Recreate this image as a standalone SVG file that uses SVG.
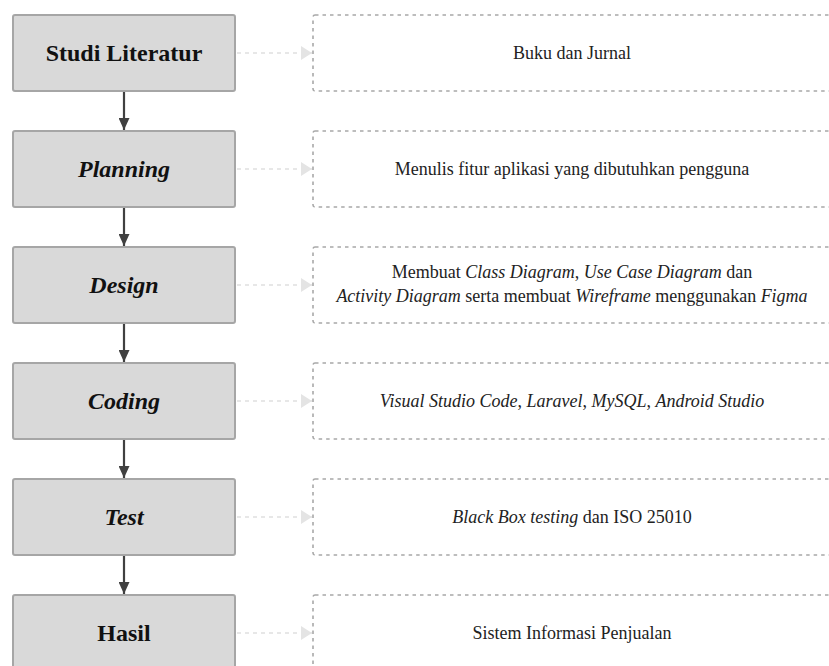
<svg xmlns="http://www.w3.org/2000/svg" width="829" height="666" viewBox="0 0 829 666">
  <defs>
    <marker id="down" markerWidth="12" markerHeight="11" refX="12" refY="5.5" orient="auto" markerUnits="userSpaceOnUse">
      <path d="M0,0 L12,5.5 L0,11 Z" fill="#404040"/>
    </marker>
    <marker id="side" markerWidth="11" markerHeight="14" refX="11" refY="7" orient="auto" markerUnits="userSpaceOnUse">
      <path d="M0,0 L11,7 L0,14 Z" fill="#e4e4e4"/>
    </marker>
  </defs>
  <style>
    .step rect { fill: #d9d9d9; stroke: #a6a6a6; stroke-width: 2; }
    .step text { font-family: "Liberation Serif", "Times New Roman", serif; font-size: 24px; font-weight: bold; fill: #111; text-anchor: middle; }
    .note rect { fill: none; stroke: #a8a8a8; stroke-width: 1.6; stroke-dasharray: 3.5 4; }
    .note text { font-family: "Liberation Serif", "Times New Roman", serif; font-size: 18px; fill: #222; text-anchor: middle; }
    .it { font-style: italic; }
    .flow { stroke: #404040; stroke-width: 2.2; fill: none; }
    .link { stroke: #e0e0e0; stroke-width: 1.6; stroke-dasharray: 4 4; fill: none; }
  </style>
  <rect width="829" height="666" fill="#ffffff"/>

  <!-- connectors -->
  <g id="connectors">
    <line class="flow" x1="124" y1="92" x2="124" y2="130" marker-end="url(#down)"/>
    <line class="flow" x1="124" y1="208" x2="124" y2="246" marker-end="url(#down)"/>
    <line class="flow" x1="124" y1="324" x2="124" y2="362" marker-end="url(#down)"/>
    <line class="flow" x1="124" y1="440" x2="124" y2="478" marker-end="url(#down)"/>
    <line class="flow" x1="124" y1="556" x2="124" y2="594" marker-end="url(#down)"/>

    <line class="link" x1="237" y1="53" x2="312" y2="53" marker-end="url(#side)"/>
    <line class="link" x1="237" y1="169" x2="312" y2="169" marker-end="url(#side)"/>
    <line class="link" x1="237" y1="285" x2="312" y2="285" marker-end="url(#side)"/>
    <line class="link" x1="237" y1="401" x2="312" y2="401" marker-end="url(#side)"/>
    <line class="link" x1="237" y1="517" x2="312" y2="517" marker-end="url(#side)"/>
    <line class="link" x1="237" y1="633" x2="312" y2="633" marker-end="url(#side)"/>
  </g>

  <!-- process steps -->
  <g id="step-studi" class="step">
    <rect x="13" y="15" width="222" height="76" rx="2"/>
    <text x="124" y="61">Studi Literatur</text>
  </g>
  <g id="step-planning" class="step">
    <rect x="13" y="131" width="222" height="76" rx="2"/>
    <text x="124" y="177" class="it">Planning</text>
  </g>
  <g id="step-design" class="step">
    <rect x="13" y="247" width="222" height="76" rx="2"/>
    <text x="124" y="293" class="it">Design</text>
  </g>
  <g id="step-coding" class="step">
    <rect x="13" y="363" width="222" height="76" rx="2"/>
    <text x="124" y="409" class="it">Coding</text>
  </g>
  <g id="step-test" class="step">
    <rect x="13" y="479" width="222" height="76" rx="2"/>
    <text x="124" y="525" class="it">Test</text>
  </g>
  <g id="step-hasil" class="step">
    <rect x="13" y="595" width="222" height="76" rx="2"/>
    <text x="124" y="641">Hasil</text>
  </g>

  <!-- notes -->
  <g id="note-studi" class="note">
    <rect x="313" y="15" width="520" height="76" rx="2"/>
    <text x="572" y="59">Buku dan Jurnal</text>
  </g>
  <g id="note-planning" class="note">
    <rect x="313" y="131" width="520" height="76" rx="2"/>
    <text x="572" y="175">Menulis fitur aplikasi yang dibutuhkan pengguna</text>
  </g>
  <g id="note-design" class="note">
    <rect x="313" y="247" width="520" height="76" rx="2"/>
    <text x="572" y="278">Membuat <tspan class="it">Class Diagram</tspan>, <tspan class="it">Use Case Diagram</tspan> dan</text>
    <text x="572" y="302"><tspan class="it">Activity Diagram</tspan> serta membuat <tspan class="it">Wireframe</tspan> menggunakan <tspan class="it">Figma</tspan></text>
  </g>
  <g id="note-coding" class="note">
    <rect x="313" y="363" width="520" height="76" rx="2"/>
    <text x="572" y="407"><tspan class="it">Visual Studio Code</tspan>, <tspan class="it">Laravel</tspan>, <tspan class="it">MySQL</tspan>, <tspan class="it">Android Studio</tspan></text>
  </g>
  <g id="note-test" class="note">
    <rect x="313" y="479" width="520" height="76" rx="2"/>
    <text x="572" y="523"><tspan class="it">Black Box testing</tspan> dan ISO 25010</text>
  </g>
  <g id="note-hasil" class="note">
    <rect x="313" y="595" width="520" height="76" rx="2"/>
    <text x="572" y="639">Sistem Informasi Penjualan</text>
  </g>
</svg>
